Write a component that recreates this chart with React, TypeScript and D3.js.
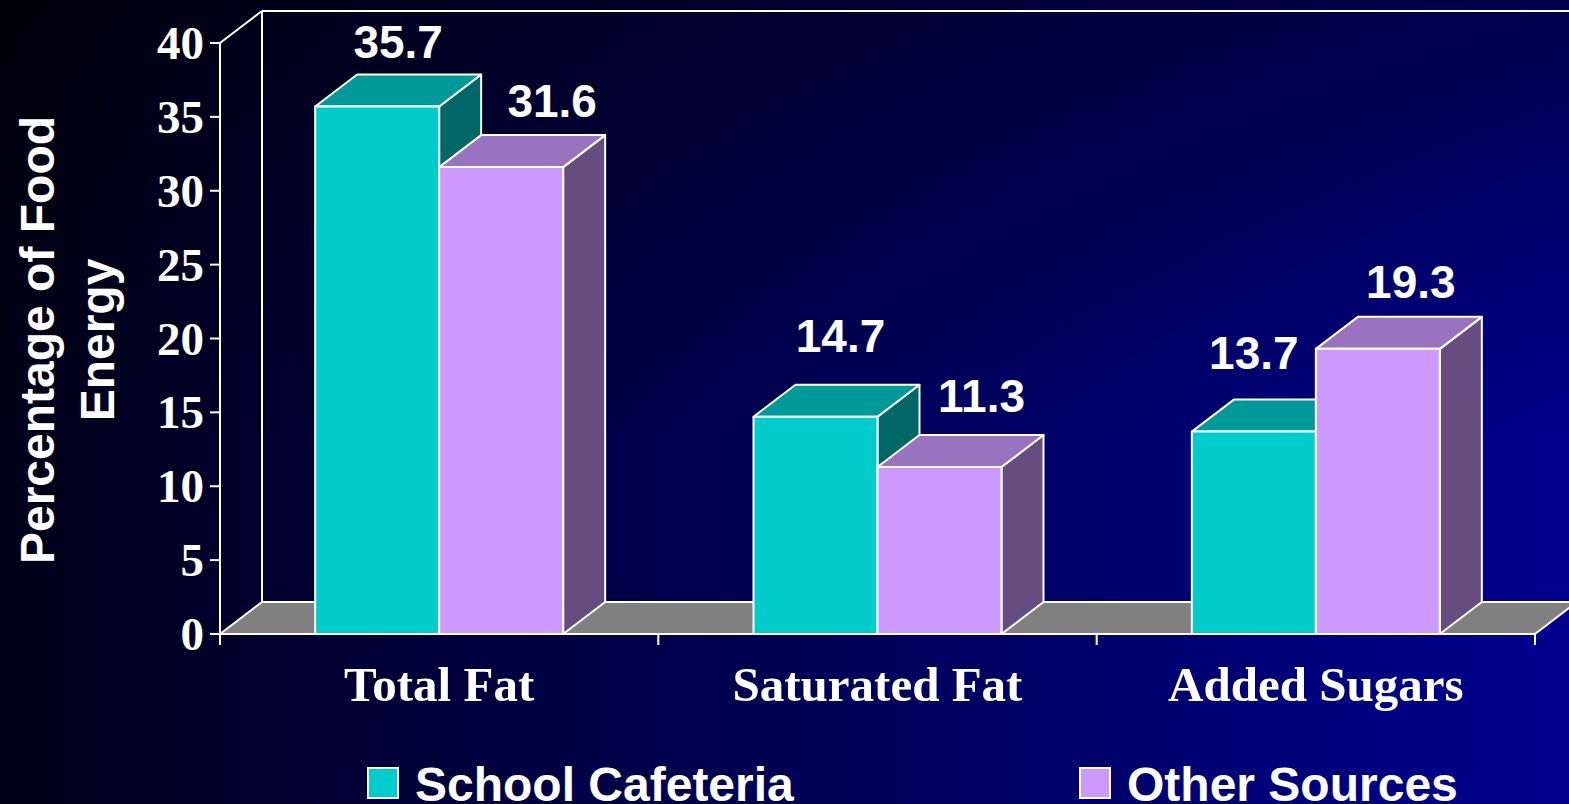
import React, { useRef, useEffect } from 'react';
import * as d3 from 'd3';

// Chart data
const categories = ['Total Fat', 'Saturated Fat', 'Added Sugars'];
const seriesNames = ['School Cafeteria', 'Other Sources'];
const schoolCafeteria = [35.7, 14.7, 13.7];
const otherSources = [31.6, 11.3, 19.3];
const yTicks = [0, 5, 10, 15, 20, 25, 30, 35, 40];

// Face colours for each series: front, top, side
const SERIES_COLORS = [
  { front: '#00CCCC', top: '#009999', side: '#006666' },
  { front: '#CC99FF', top: '#9973BF', side: '#664D80' },
];

// hand-placed value labels in the original slide (px shifts from default spot)
const LABEL_NUDGE = [
  [[0, 0], [30, -1]],
  [[4, -16], [21, -6]],
  [[-21, -14], [12, -2]],
];

const W = 1569;
const H = 804;
const DX = 42; // depth offset
const DY = 32;

const App: React.FC = () => {
  const svgRef = useRef<SVGSVGElement>(null);

  useEffect(() => {
    document.body.style.margin = '0';
    if (!svgRef.current) return;
    const svg = d3.select(svgRef.current);
    svg.selectAll('*').remove();

    const serif = '"Liberation Serif", "Times New Roman", serif';
    const sans = '"Liberation Sans", Arial, sans-serif';

    // background
    const defs = svg.append('defs');
    const bg = defs.append('linearGradient').attr('id', 'bg').attr('x1', 0).attr('x2', 1).attr('y1', 0).attr('y2', 0);
    bg.append('stop').attr('offset', '0%').attr('stop-color', '#000018');
    bg.append('stop').attr('offset', '25%').attr('stop-color', '#000038');
    bg.append('stop').attr('offset', '100%').attr('stop-color', '#00008E');
    const shade = defs.append('linearGradient').attr('id', 'shade').attr('x1', 0).attr('x2', 0).attr('y1', 0).attr('y2', 1);
    shade.append('stop').attr('offset', '0%').attr('stop-color', '#000000').attr('stop-opacity', 0.45);
    shade.append('stop').attr('offset', '55%').attr('stop-color', '#000000').attr('stop-opacity', 0);
    svg.append('rect').attr('width', W).attr('height', H).attr('fill', 'url(#bg)');
    svg.append('rect').attr('width', W).attr('height', H).attr('fill', 'url(#shade)');

    const x = d3.scaleBand<string>().domain(categories).range([220, 1535]);
    const inner = d3.scaleBand<string>().domain(seriesNames).range([-124, 124]);
    const y = d3.scaleLinear().domain([0, 40]).range([634, 43]);

    const x0 = x.range()[0];
    const x1 = x.range()[1];
    const yBase = y(0);
    const yTop = y(40);

    // back wall lines
    const wall = svg.append('g').attr('stroke', '#fff').attr('stroke-width', 2).attr('fill', 'none');
    wall.append('line').attr('x1', x0 + DX).attr('y1', yTop - DY).attr('x2', W + 10).attr('y2', yTop - DY);
    wall.append('line').attr('x1', x0 + DX).attr('y1', yTop - DY).attr('x2', x0 + DX).attr('y2', yBase - DY);
    wall.append('line').attr('x1', x0).attr('y1', yTop).attr('x2', x0 + DX).attr('y2', yTop - DY);

    // floor
    svg.append('path')
      .attr('d', `M${x0},${yBase}L${x1},${yBase}L${x1 + DX},${yBase - DY}L${x0 + DX},${yBase - DY}Z`)
      .attr('fill', '#808080')
      .attr('stroke', '#fff')
      .attr('stroke-width', 2)
      .attr('stroke-linejoin', 'round');

    // front y axis
    svg.append('line').attr('x1', x0).attr('y1', yTop).attr('x2', x0).attr('y2', yBase + 11)
      .attr('stroke', '#fff').attr('stroke-width', 2);
    const yAxis = svg.append('g');
    yTicks.forEach(t => {
      yAxis.append('line').attr('x1', x0 - 10).attr('x2', x0).attr('y1', y(t)).attr('y2', y(t))
        .attr('stroke', '#fff').attr('stroke-width', 2);
      yAxis.append('text')
        .attr('x', x0 - 16).attr('y', y(t) + 16)
        .attr('text-anchor', 'end')
        .attr('fill', '#fff')
        .attr('font-family', serif).attr('font-weight', 'bold').attr('font-size', 47)
        .text(t);
    });

    // x ticks
    const xTickPos = [x0, ...categories.map(c => (x(c) as number) + x.bandwidth())];
    xTickPos.forEach(p => {
      svg.append('line').attr('x1', p).attr('x2', p).attr('y1', yBase).attr('y2', yBase + 11)
        .attr('stroke', '#fff').attr('stroke-width', 2);
    });

    // bars
    const series = [schoolCafeteria, otherSources];
    categories.forEach((cat, ci) => {
      const cx = (x(cat) as number) + x.bandwidth() / 2;
      series.forEach((vals, si) => {
        const v = vals[ci];
        const bx = cx + (inner(seriesNames[si]) as number);
        const bw = inner.bandwidth();
        const by = y(v);
        const col = SERIES_COLORS[si];
        const g = svg.append('g').attr('stroke', '#fff').attr('stroke-width', 2).attr('stroke-linejoin', 'round');
        // side
        g.append('path')
          .attr('d', `M${bx + bw},${yBase}L${bx + bw},${by}L${bx + bw + DX},${by - DY}L${bx + bw + DX},${yBase - DY}Z`)
          .attr('fill', col.side);
        // top
        g.append('path')
          .attr('d', `M${bx},${by}L${bx + DX},${by - DY}L${bx + bw + DX},${by - DY}L${bx + bw},${by}Z`)
          .attr('fill', col.top);
        // front
        g.append('rect')
          .attr('x', bx).attr('y', by).attr('width', bw).attr('height', yBase - by)
          .attr('fill', col.front);
      });
    });

    // value labels
    categories.forEach((cat, ci) => {
      const cx = (x(cat) as number) + x.bandwidth() / 2;
      series.forEach((vals, si) => {
        const v = vals[ci];
        const bx = cx + (inner(seriesNames[si]) as number);
        const [nx, ny] = LABEL_NUDGE[ci][si];
        svg.append('text')
          .attr('x', bx + inner.bandwidth() / 2 + DX / 2 + nx)
          .attr('y', y(v) - DY - 17 + ny)
          .attr('text-anchor', 'middle')
          .attr('fill', '#fff')
          .attr('font-family', sans).attr('font-weight', 'bold').attr('font-size', 46)
          .text(v.toFixed(1));
      });
    });

    // category labels
    categories.forEach(cat => {
      svg.append('text')
        .attr('x', (x(cat) as number) + x.bandwidth() / 2)
        .attr('y', 701)
        .attr('text-anchor', 'middle')
        .attr('fill', '#fff')
        .attr('font-family', serif).attr('font-weight', 'bold').attr('font-size', 49)
        .text(cat);
    });

    // y axis title
    const title = svg.append('text')
      .attr('transform', 'translate(0,340) rotate(-90)')
      .attr('text-anchor', 'middle')
      .attr('fill', '#fff')
      .attr('font-family', sans).attr('font-weight', 'bold').attr('font-size', 48);
    title.append('tspan').attr('x', 0).attr('y', 54).text('Percentage of Food');
    title.append('tspan').attr('x', 0).attr('y', 114).text('Energy');

    // legend
    const legendX = [368, 1080];
    seriesNames.forEach((name, si) => {
      svg.append('rect')
        .attr('x', legendX[si]).attr('y', 768).attr('width', 30).attr('height', 30)
        .attr('fill', SERIES_COLORS[si].front)
        .attr('stroke', '#fff').attr('stroke-width', 2);
      svg.append('text')
        .attr('x', legendX[si] + 47).attr('y', 801)
        .attr('fill', '#fff')
        .attr('font-family', sans).attr('font-weight', 'bold').attr('font-size', 48)
        .text(name);
    });
  }, []);

  return <svg ref={svgRef} width={W} height={H} style={{ display: 'block' }} />;
};

export default App;
